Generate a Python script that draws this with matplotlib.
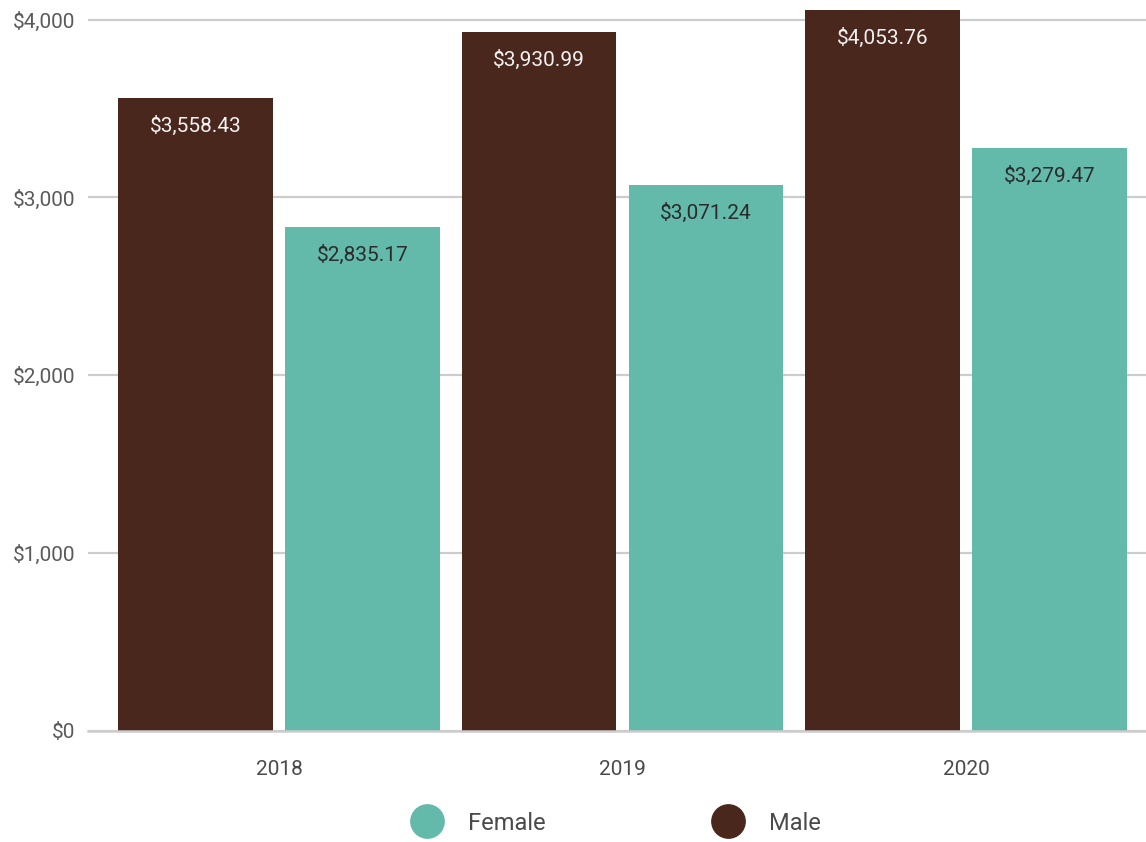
import matplotlib.pyplot as plt
from matplotlib.lines import Line2D
import numpy as np

plt.rcParams['font.family'] = ['Roboto', 'DejaVu Sans']

# Data
years = ['2018', '2019', '2020']
male = [3558.43, 3930.99, 4053.76]
female = [2835.17, 3071.24, 3279.47]

male_color = '#4a271c'
female_color = '#64baaa'

fig = plt.figure(figsize=(11.46, 8.42), dpi=100)
ax = fig.add_axes([88 / 1146, 1 - 731 / 842, 1 - 88 / 1146, 731 / 842])

x = np.arange(len(years))
width = 0.451
offset = 0.243

bars_m = ax.bar(x - offset, male, width, color=male_color, zorder=3)
bars_f = ax.bar(x + offset, female, width, color=female_color, zorder=3)

# Value labels just inside the top of each bar
for bars, vals, tcol in [(bars_m, male, '#f2f2f2'), (bars_f, female, '#2b2b2b')]:
    for b, v in zip(bars, vals):
        ax.annotate(f'${v:,.2f}', (b.get_x() + b.get_width() / 2, v),
                    xytext=(0, -20), textcoords='offset points',
                    ha='center', va='center', fontsize=15, color=tcol, zorder=4)

ax.set_xlim(-0.556, 2.524)
ax.set_ylim(0, 4110)
ax.set_yticks([0, 1000, 2000, 3000, 4000])
ax.set_yticklabels(['$0', '$1,000', '$2,000', '$3,000', '$4,000'])
ax.set_xticks(x)
ax.set_xticklabels(years)

ax.grid(axis='y', color='#cccccc', linewidth=1.6, zorder=0)
ax.set_axisbelow(True)
for s in ['top', 'right', 'left']:
    ax.spines[s].set_visible(False)
ax.spines['bottom'].set_color('#cccccc')
ax.spines['bottom'].set_linewidth(1.8)
ax.spines['bottom'].set_zorder(5)

ax.tick_params(axis='y', length=0, pad=9, labelsize=15, labelcolor='#5a5a5a')
ax.tick_params(axis='x', length=0, pad=21, labelsize=15, labelcolor='#4a4a4a')

handles = [Line2D([], [], marker='o', linestyle='', markersize=24,
                  markerfacecolor=female_color, markeredgecolor=female_color),
           Line2D([], [], marker='o', linestyle='', markersize=24,
                  markerfacecolor=male_color, markeredgecolor=male_color)]
leg = fig.legend(handles, ['Female', 'Male'], loc='center', ncol=2,
                 bbox_to_anchor=(612 / 1146, 1 - 823 / 842), frameon=False,
                 prop={'size': 17}, labelcolor='#4a4a4a',
                 handletextpad=0.75, columnspacing=6.7)

fig.savefig('out.png', dpi=100)
